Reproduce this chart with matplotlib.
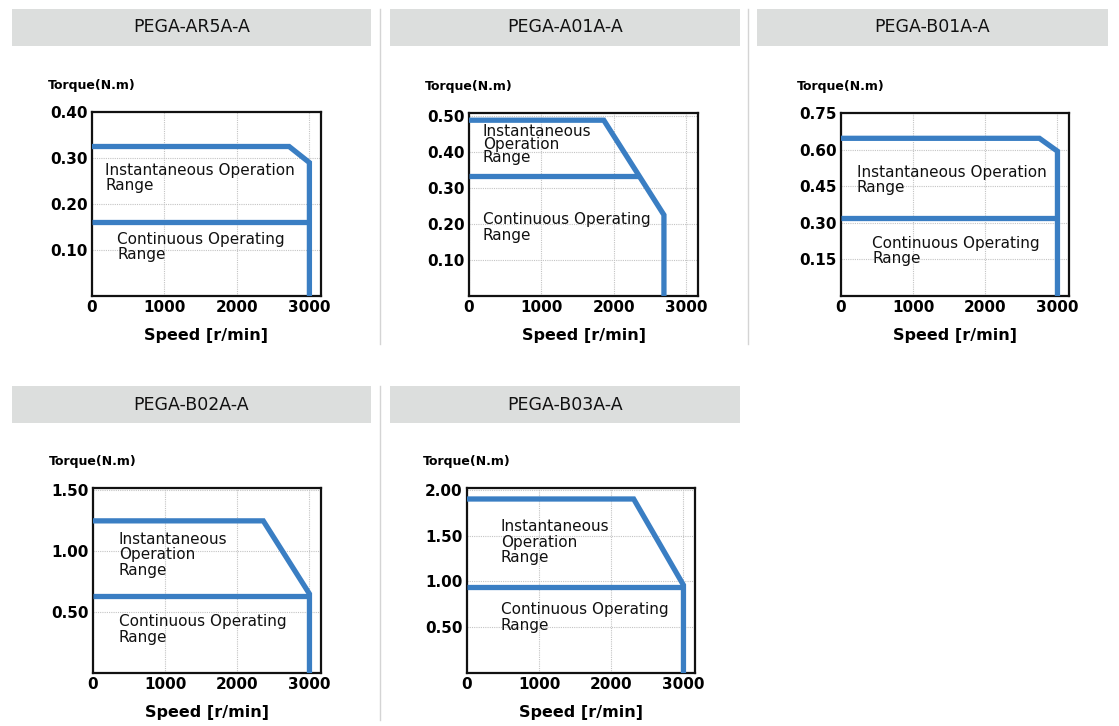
import numpy as np
import matplotlib
matplotlib.use("Agg")
import matplotlib.pyplot as plt
from matplotlib.patches import Rectangle
from matplotlib.lines import Line2D

# --- data ---
models = ["PEGA-AR5A-A", "PEGA-A01A-A", "PEGA-B01A-A", "PEGA-B02A-A", "PEGA-B03A-A"]

inst_speed = [[0, 2720, 3000, 3000],
              [0, 1860, 2690, 2690],
              [0, 2750, 3000, 3000],
              [0, 2360, 3000, 3000],
              [0, 2310, 3000, 3000]]
inst_torque = [[0.325, 0.325, 0.29, 0.0],
               [0.488, 0.488, 0.225, 0.0],
               [0.648, 0.648, 0.595, 0.0],
               [1.25, 1.25, 0.65, 0.0],
               [1.90, 1.90, 0.96, 0.0]]
cont_speed = [[0, 3000], [0, 2340], [0, 3000], [0, 3000], [0, 3000]]
cont_torque = [[0.16, 0.16], [0.333, 0.333], [0.32, 0.32], [0.635, 0.635], [0.94, 0.94]]

y_ticks = [[0.10, 0.20, 0.30, 0.40],
           [0.10, 0.20, 0.30, 0.40, 0.50],
           [0.15, 0.30, 0.45, 0.60, 0.75],
           [0.50, 1.00, 1.50],
           [0.50, 1.00, 1.50, 2.00]]
y_top = [0.40, 0.508, 0.752, 1.52, 2.02]
x_ticks = [0, 1000, 2000, 3000]

inst_text = ["Instantaneous Operation\nRange", "Instantaneous\nOperation\nRange",
             "Instantaneous Operation\nRange", "Instantaneous\nOperation\nRange",
             "Instantaneous\nOperation\nRange"]
cont_text = "Continuous Operating\nRange"

# label anchor positions (data coords, top-left of text)
inst_pos = [(180, 0.29), (190, 0.478), (220, 0.54), (360, 1.16), (470, 1.68)]
cont_pos = [(350, 0.14), (190, 0.232), (430, 0.248), (360, 0.485), (470, 0.77)]
inst_spacing = [1.05, 0.85, 1.05, 1.05, 1.05]

# --- layout in pixels (left, top, right, bottom) ---
W, H = 1119, 726
axes_px = [(92, 112, 321, 296), (469, 113, 698, 296), (841, 113, 1069, 296),
           (93, 488, 321, 673), (467, 488, 695, 673)]
header_px = [(12, 9, 371, 46), (390, 9, 740, 46), (757, 9, 1108, 46),
             (12, 386, 371, 423), (390, 386, 740, 423)]
sep_px = [(380, 9, 344), (748, 9, 344), (380, 386, 720)]

blue = "#3a7ec3"

fig = plt.figure(figsize=(W / 100, H / 100), dpi=100)
fig.patch.set_facecolor("white")

for (x0, y0, x1, y1) in header_px:
    fig.patches.append(Rectangle((x0 / W, 1 - y1 / H), (x1 - x0) / W, (y1 - y0) / H,
                                 transform=fig.transFigure, facecolor="#dcdedd",
                                 edgecolor="none", zorder=0))

for (x, y0, y1) in sep_px:
    fig.lines.append(Line2D([x / W, x / W], [1 - y0 / H, 1 - y1 / H],
                            transform=fig.transFigure, color="#d4d4d4", lw=1))

for i, name in enumerate(models):
    x0, y0, x1, y1 = header_px[i]
    fig.text((x0 + x1) / 2 / W, 1 - (y0 + y1) / 2 / H, name, ha="center", va="center",
             fontsize=12.5, color="#111111")

    l, t, r, b = axes_px[i]
    ax = fig.add_axes([l / W, 1 - b / H, (r - l) / W, (b - t) / H])
    ax.set_xlim(0, 3160)
    ax.set_ylim(0, y_top[i])
    ax.set_xticks(x_ticks)
    ax.set_yticks(y_ticks[i])
    ax.set_xticklabels([str(v) for v in x_ticks], fontweight="bold", fontsize=11)
    ax.set_yticklabels(["%.2f" % v for v in y_ticks[i]], fontweight="bold", fontsize=11)
    ax.tick_params(length=0, pad=3)
    ax.grid(True, linestyle=(0, (1, 1)), color="#c4c4c4", lw=0.8)
    ax.set_axisbelow(True)
    for s in ax.spines.values():
        s.set_linewidth(1.6)
        s.set_color("#111111")

    ax.plot(inst_speed[i], inst_torque[i], color=blue, lw=3.8,
            solid_joinstyle="miter", solid_capstyle="butt", zorder=3)
    ax.plot(cont_speed[i], cont_torque[i], color=blue, lw=3.8,
            solid_joinstyle="miter", solid_capstyle="butt", zorder=3)

    ax.text(inst_pos[i][0], inst_pos[i][1], inst_text[i], ha="left", va="top",
            fontsize=11, linespacing=inst_spacing[i], color="#111111")
    ax.text(cont_pos[i][0], cont_pos[i][1], cont_text, ha="left", va="top",
            fontsize=11, linespacing=1.05, color="#111111")

    ax.set_xlabel("Speed [r/min]", fontweight="bold", fontsize=11.5, labelpad=9)
    ax.annotate("Torque(N.m)", xy=(0, 1), xycoords="axes fraction",
                xytext=(-32, 19), textcoords="offset points", ha="left", va="center",
                fontweight="bold", fontsize=9)

fig.savefig("out.png", dpi=100)
